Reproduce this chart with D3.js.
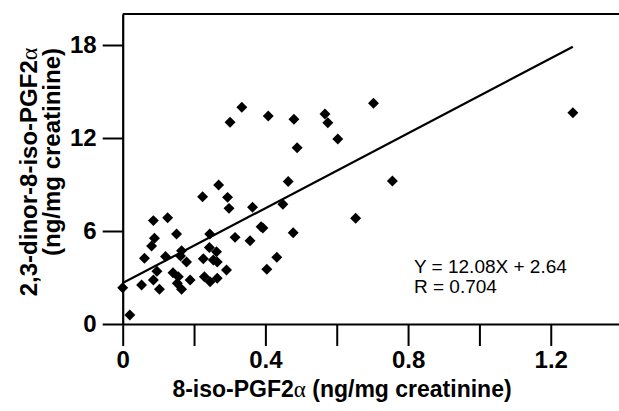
<!DOCTYPE html>
<html>
<head>
<meta charset="utf-8">
<script src="https://cdn.jsdelivr.net/npm/d3@7"></script>
<style>
  html, body { margin: 0; padding: 0; background: #fff; }
  svg { display: block; font-family: "Liberation Sans", Arial, sans-serif; }
</style>
</head>
<body>
<div id="chart"></div>
<script>
// 8-iso-PGF2a (x) vs 2,3-dinor-8-iso-PGF2a (y), ng/mg creatinine
const isoVals = [
  0.000, 0.020, 0.053, 0.061, 0.081, 0.089, 0.086, 0.126, 0.086, 0.096,
  0.103, 0.120, 0.151, 0.141, 0.156, 0.153, 0.165, 0.165, 0.162, 0.179,
  0.189, 0.224, 0.269, 0.294, 0.298, 0.244, 0.243, 0.263, 0.226, 0.254,
  0.265, 0.229, 0.245, 0.265, 0.291, 0.315, 0.357, 0.364, 0.388, 0.393,
  0.404, 0.432, 0.449, 0.464, 0.478, 0.489, 0.301, 0.334, 0.408, 0.480,
  0.567, 0.575, 0.603, 0.703, 0.653, 0.756, 1.262
];
const dinorVals = [
  2.34, 0.58, 2.52, 4.24, 5.03, 5.53, 6.67, 6.86, 2.84, 3.40,
  2.24, 4.35, 5.81, 3.31, 3.05, 2.63, 2.24, 4.73, 4.39, 4.00,
  2.84, 8.21, 8.97, 8.17, 7.46, 5.81, 4.94, 4.66, 4.21, 4.13,
  4.00, 3.05, 2.73, 2.95, 3.48, 5.59, 5.37, 7.53, 6.28, 6.19,
  3.53, 4.30, 7.72, 9.19, 5.89, 11.37, 13.01, 13.98, 13.42, 13.21,
  13.55, 12.99, 11.94, 14.24, 6.82, 9.23, 13.63
];
const xTicks = [0, 0.2, 0.4, 0.6, 0.8, 1.0, 1.2];
const xLabels = {0: "0", 0.4: "0.4", 0.8: "0.8", 1.2: "1.2"};
const yTicks = [0, 6, 12, 18];
const fitSlope = 12.08, fitIntercept = 2.64, fitXmax = 1.262;
const fitText = ["Y = 12.08X + 2.64", "R = 0.704"];

const W = 619, H = 411;
const svg = d3.select("#chart").append("svg")
    .attr("width", W)
    .attr("height", H);

const x = d3.scaleLinear().domain([0, 1.4]).range([122.7, 622.1]);
const y = d3.scaleLinear().domain([0, 20]).range([324, 14]);

// frame top line
svg.append("line")
    .attr("x1", x(0)).attr("x2", W)
    .attr("y1", y(20)).attr("y2", y(20))
    .attr("stroke", "#000").attr("stroke-width", 2.2);

const xAxis = svg.append("g")
    .attr("transform", `translate(0,${y(0)})`)
    .call(d3.axisBottom(x)
        .tickValues(xTicks)
        .tickSize(22)
        .tickSizeOuter(0)
        .tickPadding(5)
        .tickFormat(d => xLabels[Math.round(d * 10) / 10] || ""));

const yAxis = svg.append("g")
    .attr("transform", `translate(${x(0)},0)`)
    .call(d3.axisLeft(y)
        .tickValues(yTicks)
        .tickSize(20)
        .tickSizeOuter(0)
        .tickPadding(6));

[xAxis, yAxis].forEach(a => {
    a.select(".domain").attr("stroke-width", 2.2);
    a.selectAll(".tick line").attr("stroke-width", 2);
    a.selectAll(".tick text")
        .attr("font-family", "'Liberation Sans', Arial, sans-serif")
        .attr("font-size", 24)
        .attr("font-weight", "bold")
        .attr("fill", "#000");
});

// axis titles
const xt = svg.append("text")
    .attr("x", 342).attr("y", 397)
    .attr("text-anchor", "middle")
    .attr("font-size", 23).attr("font-weight", "bold");
xt.append("tspan").text("8-iso-PGF2");
xt.append("tspan").attr("font-family", "'Liberation Serif', serif").attr("font-weight", "normal").text("α");
xt.append("tspan").text(" (ng/mg creatinine)");

const yt1 = svg.append("text")
    .attr("transform", "translate(37,172) rotate(-90)")
    .attr("text-anchor", "middle")
    .attr("font-size", 24).attr("font-weight", "bold");
yt1.append("tspan").text("2,3-dinor-8-iso-PGF2");
yt1.append("tspan").attr("font-family", "'Liberation Serif', serif").attr("font-weight", "normal").text("α");

svg.append("text")
    .attr("transform", "translate(60,152) rotate(-90)")
    .attr("text-anchor", "middle")
    .attr("font-size", 24).attr("font-weight", "bold")
    .text("(ng/mg creatinine)");

// regression line
svg.append("line")
    .attr("x1", x(0)).attr("y1", y(fitIntercept))
    .attr("x2", x(fitXmax)).attr("y2", y(fitIntercept + fitSlope * fitXmax))
    .attr("stroke", "#000").attr("stroke-width", 2.2);

// points
const pts = isoVals.map((v, i) => ({x: v, y: dinorVals[i]}));
svg.append("g").selectAll("path")
    .data(pts)
    .enter()
    .append("path")
    .attr("d", d3.symbol().type(d3.symbolSquare).size(60))
    .attr("transform", d => `translate(${x(d.x)},${y(d.y)}) rotate(45)`)
    .attr("fill", "#000");

// equation
svg.append("g").selectAll("text")
    .data(fitText)
    .enter()
    .append("text")
    .attr("x", 414)
    .attr("y", (d, i) => 273 + i * 20)
    .attr("font-size", 19)
    .attr("font-weight", 500)
    .text(d => d);
</script>
</body>
</html>
